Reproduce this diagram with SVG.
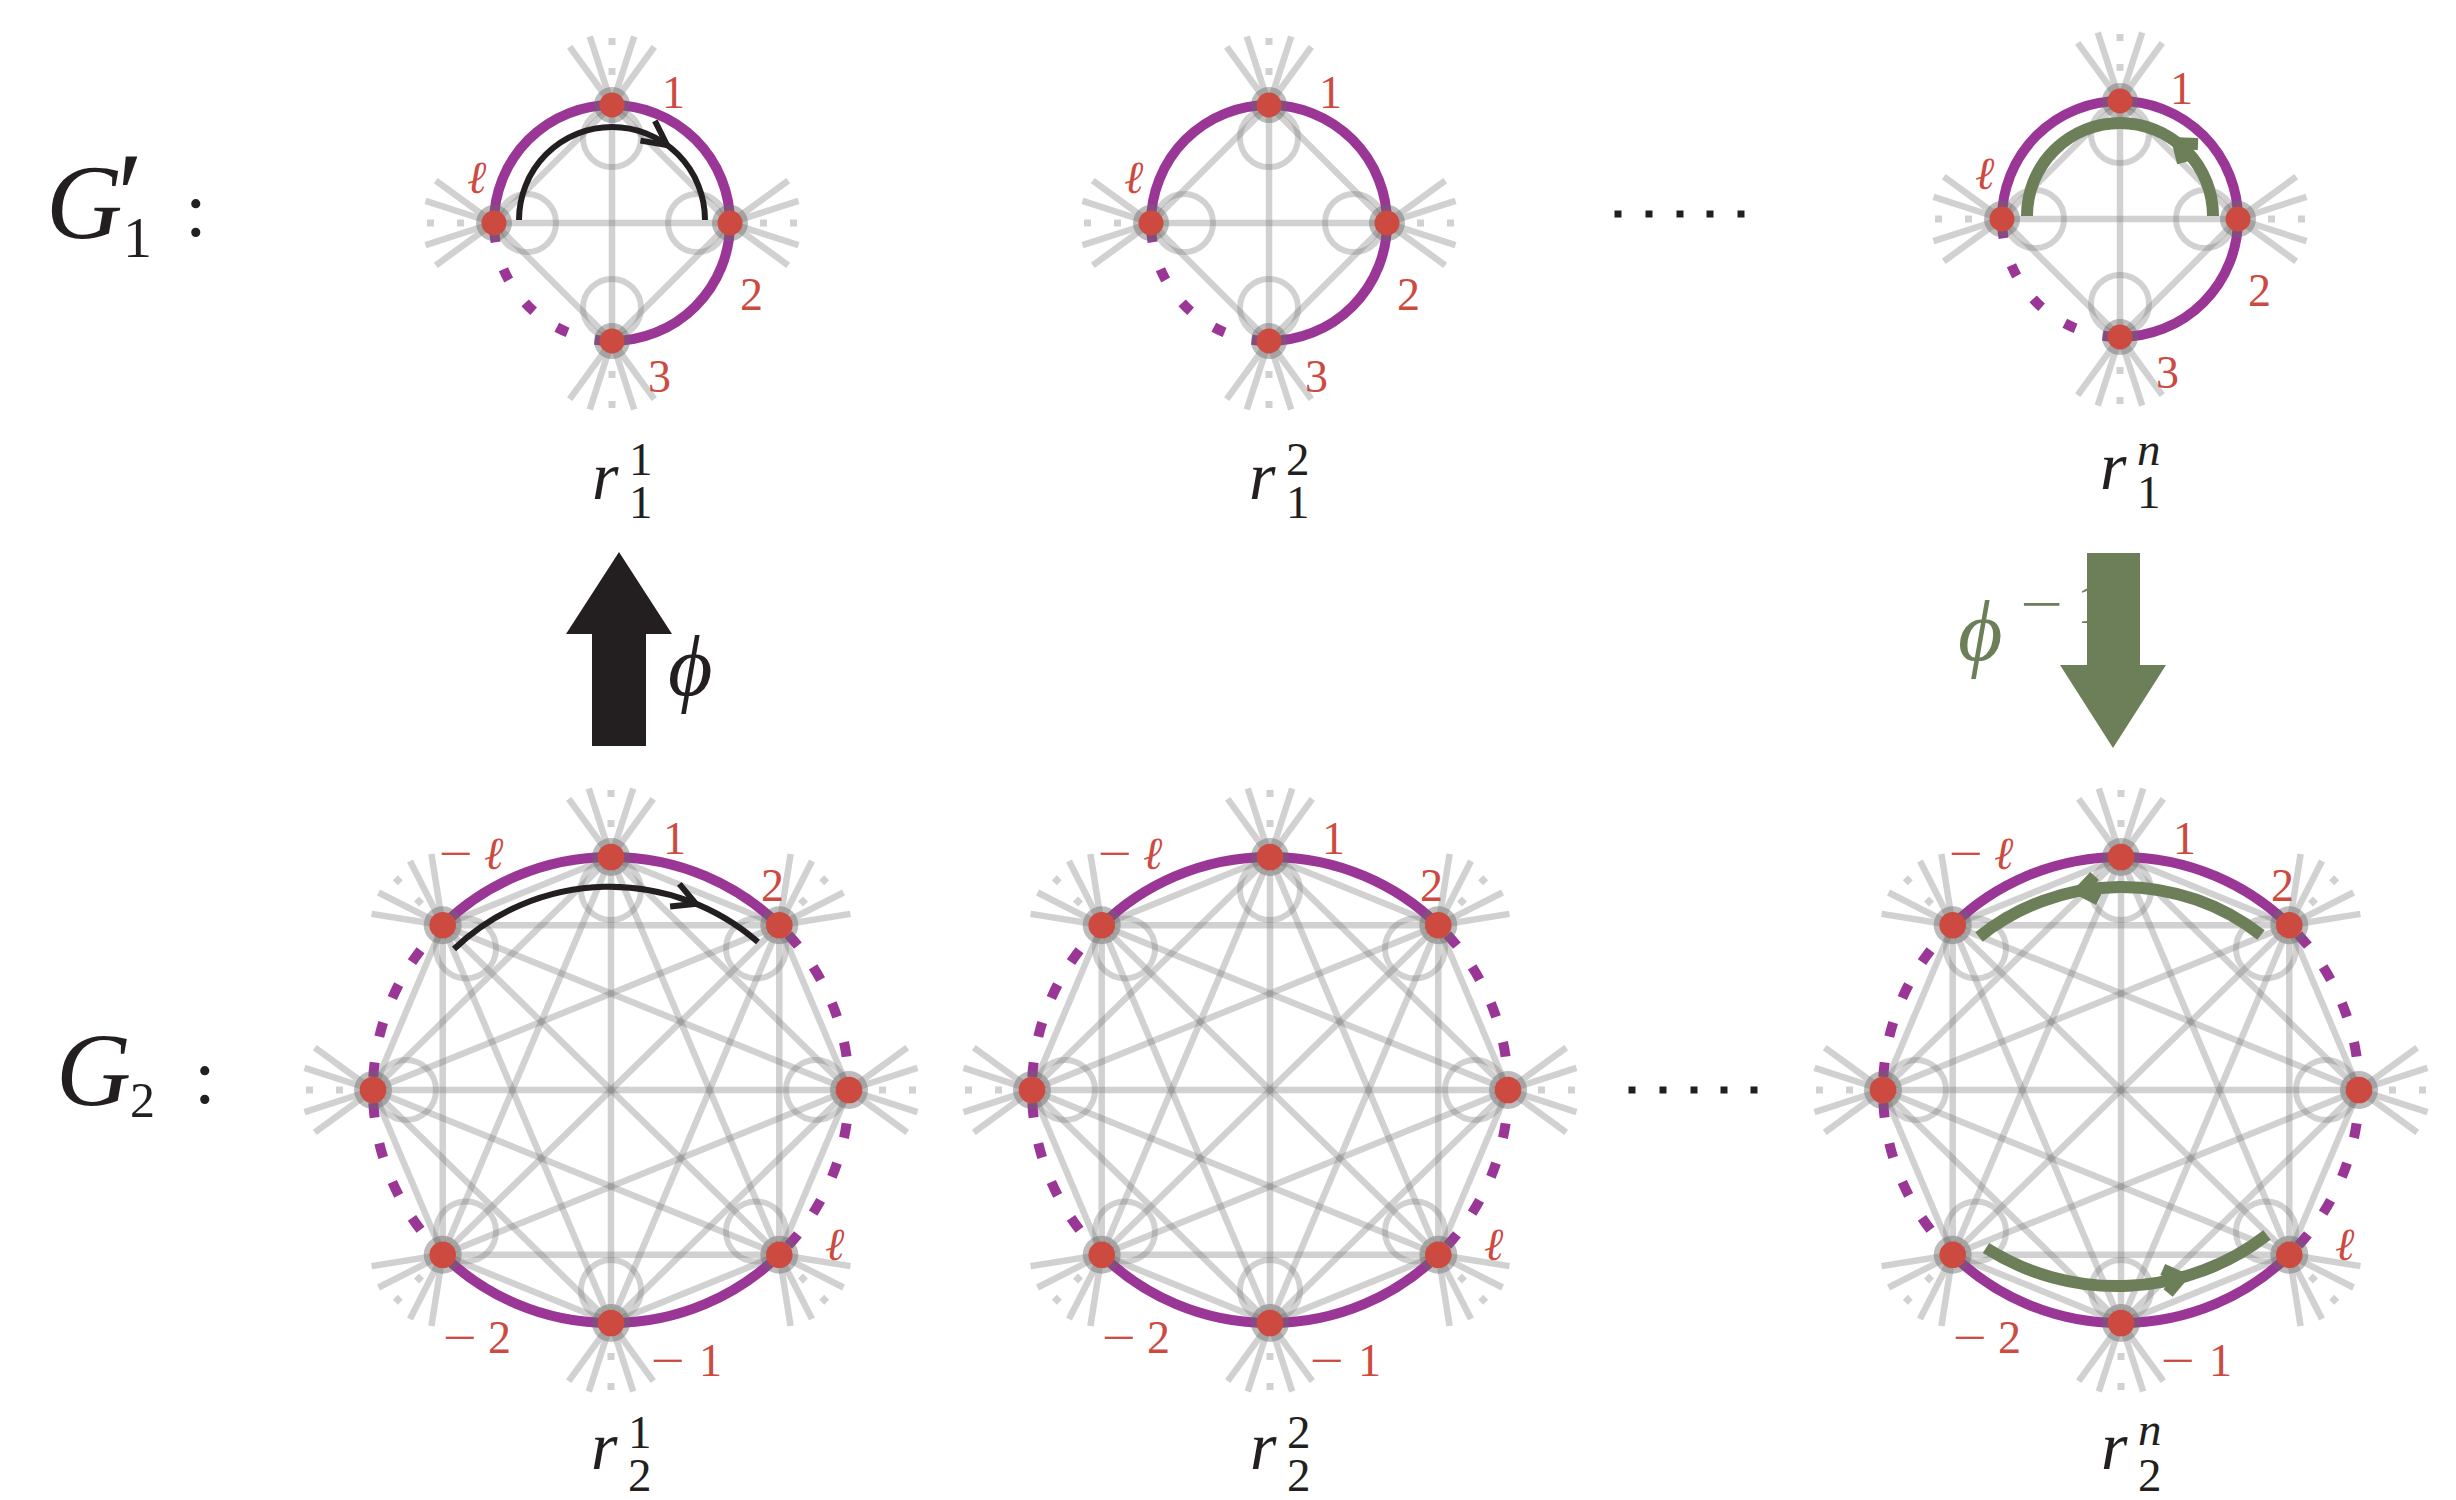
<svg xmlns="http://www.w3.org/2000/svg" xmlns:xlink="http://www.w3.org/1999/xlink" width="2456" height="1500" viewBox="0 0 2456 1500" font-family="Liberation Serif, serif">
<style>
.e{stroke:#808080;stroke-opacity:.36;stroke-width:6.5;fill:none}
.d{stroke:#808080;stroke-opacity:.36;stroke-width:7;stroke-dasharray:7 23;fill:none}
.lp{stroke:#808080;stroke-opacity:.36;stroke-width:6;fill:none}
.halo{fill:#6a6a6a;fill-opacity:.45}
.nd{fill:#cc4a3f}
.pu{stroke:#9a3696;stroke-width:10;fill:none}
text{font-family:'Liberation Serif',serif}
.lbl{fill:#cc4a3f;font-size:46px}
.it{font-style:italic}
.m{fill:#231f20}
.blk{stroke:#231f20;stroke-width:6;fill:none}
.grn{stroke:#6c7f59;stroke-width:12;fill:none;stroke-linejoin:miter}
.dot{fill:#231f20}
</style>
<defs>
<g id="g1base">
<g class="e">
<line x1="0" y1="-118" x2="118" y2="0"/>
<line x1="0" y1="-118" x2="0" y2="118"/>
<line x1="0" y1="-118" x2="-118" y2="0"/>
<line x1="118" y1="0" x2="0" y2="118"/>
<line x1="118" y1="0" x2="-118" y2="0"/>
<line x1="0" y1="118" x2="-118" y2="0"/>
<path d="M0 -118 L-42.3 -176.2 M0 -118 L-22.2 -186.5 M0 -118 L22.2 -186.5 M0 -118 L42.3 -176.2"/>
<path d="M118 0 L176.2 -42.3 M118 0 L186.5 -22.2 M118 0 L186.5 22.2 M118 0 L176.2 42.3"/>
<path d="M0 118 L42.3 176.2 M0 118 L22.2 186.5 M0 118 L-22.2 186.5 M0 118 L-42.3 176.2"/>
<path d="M-118 0 L-176.2 42.3 M-118 0 L-186.5 22.2 M-118 0 L-186.5 -22.2 M-118 0 L-176.2 -42.3"/>
</g>
<path class="d" d="M0 -148 L0 -186 M148 0 L186 0 M0 148 L0 186 M-148 0 L-186 0"/>
<g class="lp">
<circle cx="0" cy="-85" r="29"/><circle cx="85" cy="0" r="29"/><circle cx="0" cy="85" r="29"/><circle cx="-85" cy="0" r="29"/>
</g>
<path class="pu" d="M-118 0 A118 118 0 1 1 0 118"/>
<path class="pu" d="M0 118 A118 118 0 0 1 -118 0" pathLength="90" stroke-dasharray="5.8 13.7" stroke-dashoffset="-2.6"/>
<g class="halo">
<circle cx="0" cy="-118" r="18"/><circle cx="118" cy="0" r="18"/><circle cx="0" cy="118" r="18"/><circle cx="-118" cy="0" r="18"/>
</g>
<g class="nd">
<circle cx="0" cy="-118" r="12.5"/><circle cx="118" cy="0" r="12.5"/><circle cx="0" cy="118" r="12.5"/><circle cx="-118" cy="0" r="12.5"/>
</g>
<text class="lbl" x="50" y="-115">1</text>
<text class="lbl it" x="-145" y="-30">ℓ</text>
<text class="lbl" x="128" y="87">2</text>
<text class="lbl" x="36" y="169">3</text>
</g>
<g id="g2base">
<g class="e">
<line x1="0" y1="-233" x2="168.3" y2="-164.8"/>
<line x1="0" y1="-233" x2="238" y2="0"/>
<line x1="0" y1="-233" x2="168.3" y2="164.8"/>
<line x1="0" y1="-233" x2="0" y2="233"/>
<line x1="0" y1="-233" x2="-168.3" y2="164.8"/>
<line x1="0" y1="-233" x2="-238" y2="0"/>
<line x1="0" y1="-233" x2="-168.3" y2="-164.8"/>
<line x1="168.3" y1="-164.8" x2="238" y2="0"/>
<line x1="168.3" y1="-164.8" x2="168.3" y2="164.8"/>
<line x1="168.3" y1="-164.8" x2="0" y2="233"/>
<line x1="168.3" y1="-164.8" x2="-168.3" y2="164.8"/>
<line x1="168.3" y1="-164.8" x2="-238" y2="0"/>
<line x1="168.3" y1="-164.8" x2="-168.3" y2="-164.8"/>
<line x1="238" y1="0" x2="168.3" y2="164.8"/>
<line x1="238" y1="0" x2="0" y2="233"/>
<line x1="238" y1="0" x2="-168.3" y2="164.8"/>
<line x1="238" y1="0" x2="-238" y2="0"/>
<line x1="238" y1="0" x2="-168.3" y2="-164.8"/>
<line x1="168.3" y1="164.8" x2="0" y2="233"/>
<line x1="168.3" y1="164.8" x2="-168.3" y2="164.8"/>
<line x1="168.3" y1="164.8" x2="-238" y2="0"/>
<line x1="168.3" y1="164.8" x2="-168.3" y2="-164.8"/>
<line x1="0" y1="233" x2="-168.3" y2="164.8"/>
<line x1="0" y1="233" x2="-238" y2="0"/>
<line x1="0" y1="233" x2="-168.3" y2="-164.8"/>
<line x1="-168.3" y1="164.8" x2="-238" y2="0"/>
<line x1="-168.3" y1="164.8" x2="-168.3" y2="-164.8"/>
<line x1="-238" y1="0" x2="-168.3" y2="-164.8"/>
<path d="M0 -233 L-42.3 -291.2 M0 -233 L-22.2 -301.5 M0 -233 L22.2 -301.5 M0 -233 L42.3 -291.2"/>
<path d="M168.3 -164.8 L179.6 -235.9 M168.3 -164.8 L201 -229 M168.3 -164.8 L232.5 -197.5 M168.3 -164.8 L239.4 -176.1"/>
<path d="M238 0 L296.2 -42.3 M238 0 L306.5 -22.2 M238 0 L306.5 22.2 M238 0 L296.2 42.3"/>
<path d="M168.3 164.8 L239.4 176.1 M168.3 164.8 L232.5 197.5 M168.3 164.8 L201 229 M168.3 164.8 L179.6 235.9"/>
<path d="M0 233 L42.3 291.2 M0 233 L22.2 301.5 M0 233 L-22.2 301.5 M0 233 L-42.3 291.2"/>
<path d="M-168.3 164.8 L-179.6 235.9 M-168.3 164.8 L-201 229 M-168.3 164.8 L-232.5 197.5 M-168.3 164.8 L-239.4 176.1"/>
<path d="M-238 0 L-296.2 42.3 M-238 0 L-306.5 22.2 M-238 0 L-306.5 -22.2 M-238 0 L-296.2 -42.3"/>
<path d="M-168.3 -164.8 L-239.4 -176.1 M-168.3 -164.8 L-232.5 -197.5 M-168.3 -164.8 L-201 -229 M-168.3 -164.8 L-179.6 -235.9"/>
</g>
<path class="d" d="M0 -263 L0 -301 M189.5 -186 L216.4 -212.9 M268 0 L306 0 M189.5 186 L216.4 212.9 M0 263 L0 301 M-189.5 186 L-216.4 212.9 M-268 0 L-306 0 M-189.5 -186 L-216.4 -212.9"/>
<g class="lp">
<circle cx="0" cy="-200" r="30"/><circle cx="145" cy="-141.5" r="30"/><circle cx="205" cy="0" r="30"/><circle cx="145" cy="141.5" r="30"/>
<circle cx="0" cy="200" r="30"/><circle cx="-145" cy="141.5" r="30"/><circle cx="-205" cy="0" r="30"/><circle cx="-145" cy="-141.5" r="30"/>
</g>
<path class="pu" d="M-168.3 -164.8 A238 233 0 0 1 168.3 -164.8"/>
<path class="pu" d="M168.3 164.8 A238 233 0 0 1 -168.3 164.8"/>
<path class="pu" d="M168.3 -164.8 A238 233 0 0 1 168.3 164.8" pathLength="90" stroke-dasharray="3.6 6.4" stroke-dashoffset="-3.2"/>
<path class="pu" d="M-168.3 164.8 A238 233 0 0 1 -168.3 -164.8" pathLength="90" stroke-dasharray="3.6 6.4" stroke-dashoffset="1.8"/>
<g class="halo">
<circle cx="0" cy="-233" r="19"/><circle cx="168.3" cy="-164.8" r="19"/><circle cx="238" cy="0" r="19"/><circle cx="168.3" cy="164.8" r="19"/>
<circle cx="0" cy="233" r="19"/><circle cx="-168.3" cy="164.8" r="19"/><circle cx="-238" cy="0" r="19"/><circle cx="-168.3" cy="-164.8" r="19"/>
</g>
<g class="nd">
<circle cx="0" cy="-233" r="13.3"/><circle cx="168.3" cy="-164.8" r="13.3"/><circle cx="238" cy="0" r="13.3"/><circle cx="168.3" cy="164.8" r="13.3"/>
<circle cx="0" cy="233" r="13.3"/><circle cx="-168.3" cy="164.8" r="13.3"/><circle cx="-238" cy="0" r="13.3"/><circle cx="-168.3" cy="-164.8" r="13.3"/>
</g>
<text class="lbl" x="52" y="-236">1</text>
<text class="lbl" x="150" y="-189">2</text>
<text class="lbl" x="-172" y="-221" textLength="34" lengthAdjust="spacingAndGlyphs">−</text>
<text class="lbl it" x="-127" y="-221">ℓ</text>
<text class="lbl it" x="214" y="170">ℓ</text>
<text class="lbl" x="-168" y="263" textLength="34" lengthAdjust="spacingAndGlyphs">−</text>
<text class="lbl" x="-123" y="263">2</text>
<text class="lbl" x="40" y="286" textLength="34" lengthAdjust="spacingAndGlyphs">−</text>
<text class="lbl" x="88" y="286">1</text>
</g>
</defs>

<g id="label-G1">
<text class="m"><tspan class="it" x="46" y="238" font-size="106">G</tspan><tspan x="117" y="236" font-size="120">′</tspan><tspan x="123" y="257" font-size="58">1</tspan><tspan x="185" y="236" font-size="78">:</tspan></text>
</g>
<g id="label-G2">
<text class="m"><tspan class="it" x="56" y="1105" font-size="104">G</tspan><tspan x="130" y="1117" font-size="50">2</tspan><tspan x="194" y="1103" font-size="78">:</tspan></text>
</g>

<g id="g1-r1" transform="translate(612,223)">
<use xlink:href="#g1base" href="#g1base"/>
<path class="blk" d="M-93 -3 A93 93 0 0 1 93 -3"/>
<path class="blk" d="M28.4 -82.4 L55 -78 L42.9 -102.1"/>
<text class="m"><tspan class="it" x="-20" y="276" font-size="68">r</tspan><tspan x="17" y="252" font-size="47">1</tspan><tspan x="17" y="295" font-size="47">1</tspan></text>
</g>
<g id="g1-r2" transform="translate(1269,223)">
<use xlink:href="#g1base" href="#g1base"/>
<text class="m"><tspan class="it" x="-20" y="276" font-size="68">r</tspan><tspan x="17" y="252" font-size="47">2</tspan><tspan x="17" y="295" font-size="47">1</tspan></text>
</g>
<g id="g1-rn" transform="translate(2120,219)">
<use xlink:href="#g1base" href="#g1base"/>
<path class="grn" d="M-93 -3 A93 93 0 0 1 93 -3"/>
<path class="grn" stroke-width="10" d="M78 -75.1 L58 -75.7 L63 -56.3"/>
<text class="m"><tspan class="it" x="-20" y="270" font-size="68">r</tspan><tspan class="it" x="17" y="246" font-size="47">n</tspan><tspan x="17" y="289" font-size="47">1</tspan></text>
</g>

<g id="g2-r1" transform="translate(611,1090)">
<use xlink:href="#g2base" href="#g2base"/>
<path class="blk" d="M-157 -141 A226 226 0 0 1 147 -148"/>
<path class="blk" d="M59.1 -183.5 L85 -186.2 L68.3 -206.1"/>
<text class="m"><tspan class="it" x="-20" y="379" font-size="68">r</tspan><tspan x="17" y="358" font-size="47">1</tspan><tspan x="17" y="401" font-size="47">2</tspan></text>
</g>
<g id="g2-r2" transform="translate(1270,1090)">
<use xlink:href="#g2base" href="#g2base"/>
<text class="m"><tspan class="it" x="-20" y="379" font-size="68">r</tspan><tspan x="17" y="358" font-size="47">2</tspan><tspan x="17" y="401" font-size="47">2</tspan></text>
</g>
<g id="g2-rn" transform="translate(2121,1090)">
<use xlink:href="#g2base" href="#g2base"/>
<path class="grn" d="M-142 -153 A227 227 0 0 1 140 -155"/>
<path class="grn" stroke-width="10" d="M-22.2 -190.4 L-40 -199.5 L-26.4 -214"/>
<path class="grn" d="M-135 158 A245 245 0 0 0 146 145"/>
<path class="grn" stroke-width="10" d="M41.7 179.6 L60 187.6 L47.1 203"/>
<text class="m"><tspan class="it" x="-20" y="379" font-size="68">r</tspan><tspan class="it" x="17" y="355" font-size="47">n</tspan><tspan x="17" y="401" font-size="47">2</tspan></text>
</g>

<g id="ellipsis-top" class="dot">
<rect x="1614.5" y="210.5" width="7" height="7"/><rect x="1645.5" y="210.5" width="7" height="7"/><rect x="1676.5" y="210.5" width="7" height="7"/><rect x="1706.5" y="210.5" width="7" height="7"/><rect x="1737.5" y="210.5" width="7" height="7"/>
</g>
<g id="ellipsis-bottom" class="dot">
<rect x="1628.5" y="1086.5" width="7" height="7"/><rect x="1659.5" y="1086.5" width="7" height="7"/><rect x="1690.5" y="1086.5" width="7" height="7"/><rect x="1720.5" y="1086.5" width="7" height="7"/><rect x="1750.5" y="1086.5" width="7" height="7"/>
</g>

<g id="connectors">
<g id="arrow-phi">
<polygon fill="#231f20" points="619,552 672,634 646,634 646,746 592,746 592,634 566,634"/>
<text class="m it" x="668" y="695" font-size="86">ϕ</text>
</g>
<g id="arrow-phi-inv">
<text class="m it" x="1958" y="660" font-size="86" style="fill:#6c7f59">ϕ</text>
<text class="m" x="2020" y="623" font-size="56" style="fill:#6c7f59" textLength="43" lengthAdjust="spacingAndGlyphs">−</text>
<text class="m" x="2077" y="623" font-size="56" style="fill:#6c7f59">1</text>
<polygon fill="#6c7f59" points="2087,553 2140,553 2140,665 2166,665 2113,748 2060,665 2087,665"/>
</g>
</g>
</svg>
